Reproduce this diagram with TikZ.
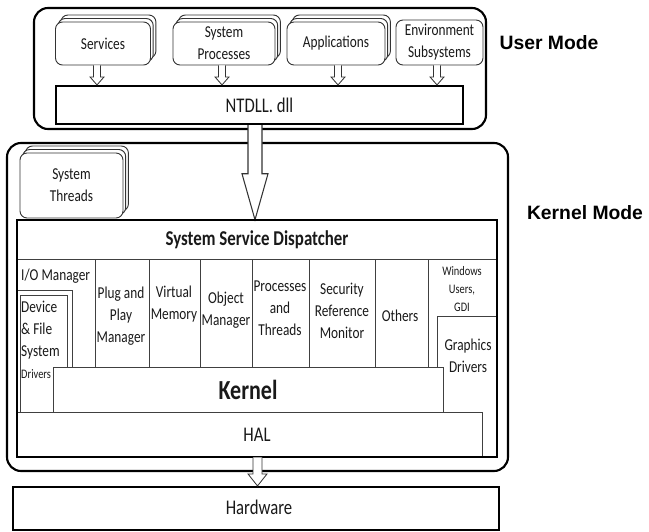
\documentclass[tikz,border=0pt]{standalone}
\usepackage{fontspec}
\setmainfont{Carlito}[FakeStretch=0.8]
\newfontfamily\modefont{Liberation Sans}
\usetikzlibrary{calc,shadows}

\def\pxu{0.03cm}

\begin{document}
\begin{tikzpicture}[x=0.03cm, y=-0.03cm,
    lbl/.style={font=\fontsize{14.2}{18.7}\selectfont, align=center, inner sep=0pt, text=black!90},
    smalllbl/.style={font=\fontsize{11.1}{15.7}\selectfont, align=center, inner sep=0pt, text=black!90},
    biglbl/.style={font=\fontsize{17.8}{20}\selectfont, inner sep=0pt, text=black!90},
    modelbl/.style={font=\modefont\bfseries\fontsize{16.5}{20}\selectfont, inner sep=0pt},
    thinline/.style={draw=black!75, line width=0.6pt},
    thickline/.style={draw=black, line width=1.8pt},
    procbox/.style={lbl, draw=black!80, line width=0.8pt, fill=white, rounded corners=6pt,
        minimum height=43*\pxu},
    stacked/.style={double copy shadow={shadow xshift=2.7*\pxu, shadow yshift=3.5*\pxu,
        draw=black!80, fill=white, line width=0.8pt}},
    hollow/.style={draw=black!80, line width=0.7pt, fill=white}]

    \useasboundingbox (0,0) rectangle (649,531);

    % Mode frames
    \draw[thickline, rounded corners=12pt] (34,8) rectangle (486,129);
    \draw[thickline, rounded corners=12pt] (7,143) rectangle (508,471);
    \node[modelbl] (usermode) at (549,43) {User Mode};
    \node[modelbl] (kernelmode) at (585,213) {Kernel Mode};

    % User mode processes
    \node[procbox, stacked, minimum width=95*\pxu] (services) at (103,43.5) {Services};
    \node[procbox, stacked, minimum width=102*\pxu] (sysproc) at (224,43.5) {System\\Processes};
    \node[procbox, stacked, minimum width=98*\pxu] (apps) at (336,43.5) {Applications};
    \node[procbox, minimum width=87*\pxu, minimum height=45*\pxu] (envsub) at (439.5,42.5) {Environment\\Subsystems};

    % NTDLL
    \node[biglbl, thickline, minimum width=407*\pxu, minimum height=38*\pxu] (ntdll) at (259.5,105) {NTDLL. dll};

    % Small hollow arrows down to NTDLL
    \foreach \src/\dx in {services/-6, sysproc/-2, apps/2, envsub/-2.5} {
        \draw[hollow] ($(\src.south)+(\dx-3.5,0)$) |- ($(\src.south |- ntdll.north)+(\dx-7,-8)$)
            -- ($(\src.south |- ntdll.north)+(\dx,0)$)
            -- ($(\src.south |- ntdll.north)+(\dx+7,-8)$) -| ($(\src.south)+(\dx+3.5,0)$);
    }

    % System threads
    \node[procbox, stacked, minimum width=103*\pxu, minimum height=65*\pxu] (threads) at (71.5,185.5) {System\\Threads};

    % Dispatcher frame and title row
    \node[lbl, font=\fontsize{18}{20}\selectfont\bfseries, minimum width=480*\pxu, minimum height=39*\pxu]
        (dispatch) at (257,239.5) {System Service Dispatcher};
    \draw[thinline] (dispatch.south west) -- (dispatch.south east);

    % Big hollow arrow from NTDLL to dispatcher
    \draw[hollow, line width=0.9pt] ($(ntdll.south)+(-11.5,0)$) |- ($(ntdll.south |- dispatch.north)+(-17.5,-46)$)
        -- ($(ntdll.south |- dispatch.north)+(-4.5,0)$)
        -- ($(ntdll.south |- dispatch.north)+(8.5,-46)$) -| ($(ntdll.south)+(2.5,0)$);

    % Column dividers
    \foreach \x in {95, 149, 200, 252, 309, 375, 428} {
        \draw[thinline] (\x,259) -- (\x,367);
    }

    % Executive components
    \node[lbl, anchor=west] (iomgr) at (21,276) {I/O Manager};
    \node[lbl] (pnp) at (121,316) {Plug and\\Play\\Manager};
    \node[lbl] (vmem) at (174,304) {Virtual\\Memory};
    \node[lbl] (objmgr) at (226,310) {Object\\Manager};
    \node[lbl] (procthr) at (280,308) {Processes\\and\\Threads};
    \node[lbl] (srm) at (342,311) {Security\\Reference\\Monitor};
    \node[lbl] (others) at (400,316) {Others};
    \node[smalllbl] (winusr) at (462,289) {Windows\\Users,\\GDI};

    % Device and file system drivers (double outline)
    \draw[thinline] (17,290) -| (72,367);
    \draw[thinline] (20,412) |- (67,295) -- (67,367);
    \node[lbl, align=left, anchor=west] (devdrv) at (21,330) {Device\\\& File\\System};
    \node[smalllbl, anchor=west] (devdrvs) at (21,374) {Drivers};

    % Graphics drivers
    \draw[thinline] (497,316) -| (437,367);
    \node[lbl] (gfxdrv) at (468,356) {Graphics\\Drivers};

    % Kernel and HAL
    \node[lbl, font=\fontsize{23.5}{26}\selectfont\bfseries, thinline, fill=white,
        minimum width=390*\pxu, minimum height=45*\pxu] (kernel) at (248,389.5) {Kernel};
    \node[biglbl, thinline, minimum width=465*\pxu, minimum height=45*\pxu] (hal) at (249.5,434.5) {};
    \node[biglbl] (haltxt) at (257,435) {HAL};
    \draw[thickline] (17,220) rectangle (497,457);

    % Hardware
    \node[biglbl, thickline, minimum width=486*\pxu, minimum height=43*\pxu] (hardware) at (256,508.5) {};
    \node[biglbl] (hwtxt) at (259,507) {Hardware};

    % Arrow from HAL to hardware
    \draw[hollow] ($(hal.south)+(3.5,0)$) |- ($(hal.south |- hardware.north)+(-1.5,-12)$)
        -- ($(hal.south |- hardware.north)+(8,0)$)
        -- ($(hal.south |- hardware.north)+(17.5,-12)$) -| ($(hal.south)+(12.5,0)$);

\end{tikzpicture}
\end{document}
